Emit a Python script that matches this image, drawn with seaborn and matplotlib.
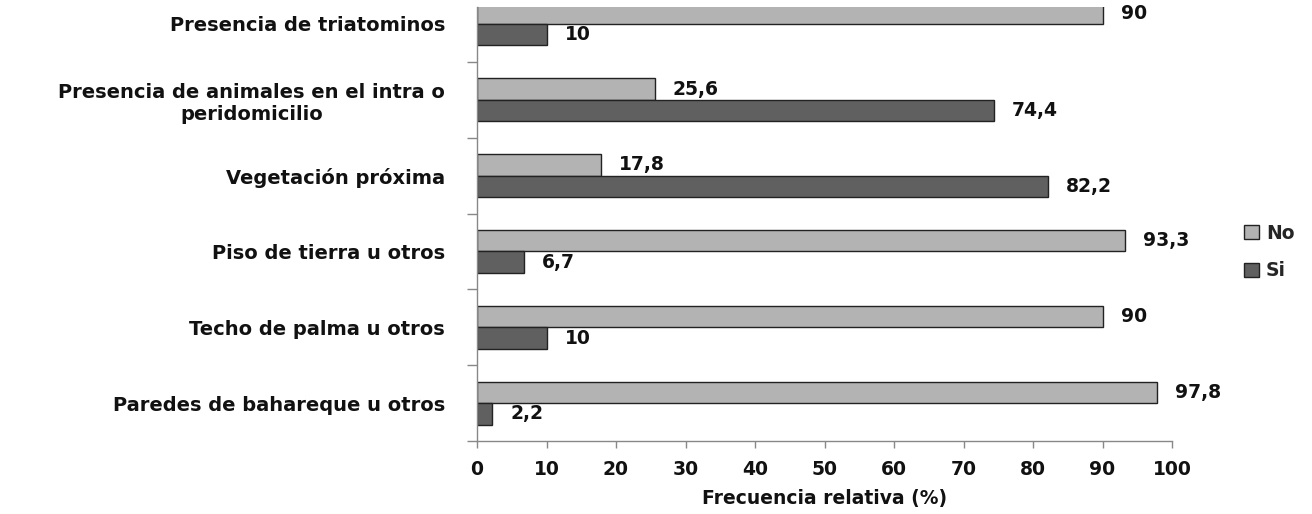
import matplotlib
matplotlib.use("Agg")
import matplotlib.pyplot as plt
from matplotlib.ticker import FixedLocator
import pandas as pd
import seaborn as sns

categories = [
    "Presencia de triatominos",
    "Presencia de animales en el intra o\nperidomicilio",
    "Vegetación próxima",
    "Piso de tierra u otros",
    "Techo de palma u otros",
    "Paredes de bahareque u otros",
]
no_values = [90, 25.6, 17.8, 93.3, 90, 97.8]
si_values = [10, 74.4, 82.2, 6.7, 10, 2.2]
series_names = ["No", "Si"]
x_ticks = [0, 10, 20, 30, 40, 50, 60, 70, 80, 90, 100]
x_label = "Frecuencia relativa (%)"

df = pd.DataFrame({
    "categoria": categories * 2,
    "respuesta": [series_names[0]] * len(categories) + [series_names[1]] * len(categories),
    "valor": no_values + si_values,
})

sns.set_theme(style="white")
plt.rcParams["font.family"] = ["DejaVu Sans"]
plt.rcParams["font.weight"] = "bold"

fig = plt.figure(figsize=(13.12, 5.14), dpi=100)
ax = fig.add_axes([477 / 1312, 73 / 514, 695 / 1312, 434 / 514])

palette = {"No": "#b3b3b3", "Si": "#606060"}
sns.barplot(
    data=df, y="categoria", x="valor", hue="respuesta", order=categories,
    hue_order=series_names, palette=palette, orient="h", width=0.567,
    edgecolor="#222222", linewidth=1.0, saturation=1, ax=ax, legend=True,
)

for container in ax.containers:
    vals = container.datavalues
    labels = [f"{v:g}".replace(".", ",") for v in vals]
    ax.bar_label(container, labels=labels, padding=13, fontsize=13.5,
                 fontweight="bold", color="#111111")

ax.set_xlim(0, 100)
ax.set_ylim(5.5, -0.224)
ax.xaxis.set_major_locator(FixedLocator(x_ticks))
ax.set_xticklabels([str(t) for t in x_ticks], fontsize=13.5, fontweight="bold", color="#111111")

ax.yaxis.set_major_locator(FixedLocator(range(len(categories))))
ax.set_yticklabels(categories, fontsize=14, fontweight="bold", color="#111111",
                   multialignment="center")
ax.yaxis.set_minor_locator(FixedLocator([0.5, 1.5, 2.5, 3.5, 4.5, 5.5]))
ax.tick_params(axis="y", which="major", left=True, length=0, pad=23)
ax.tick_params(axis="y", which="minor", left=True, length=7.5, width=1,
               color="#888888", direction="out")
ax.tick_params(axis="x", which="major", bottom=True, length=5, width=1,
               color="#888888", direction="out", pad=9)

ax.set_xlabel(x_label, fontsize=13.5, fontweight="bold", color="#111111", labelpad=7)
ax.set_ylabel("")

for side in ["top", "right"]:
    ax.spines[side].set_visible(False)
for side in ["left", "bottom"]:
    ax.spines[side].set_color("#888888")
    ax.spines[side].set_linewidth(1)

ax.legend_.remove()
handles, labels = ax.get_legend_handles_labels()
fig.legend(handles, labels, loc="center left", bbox_to_anchor=(1236 / 1312, 1 - 252 / 514),
           frameon=False, prop={"weight": "bold", "size": 13.5}, handlelength=0.8,
           handleheight=0.8, handletextpad=0.4, labelspacing=1.0, borderaxespad=0)

fig.savefig("out.png", dpi=100)
